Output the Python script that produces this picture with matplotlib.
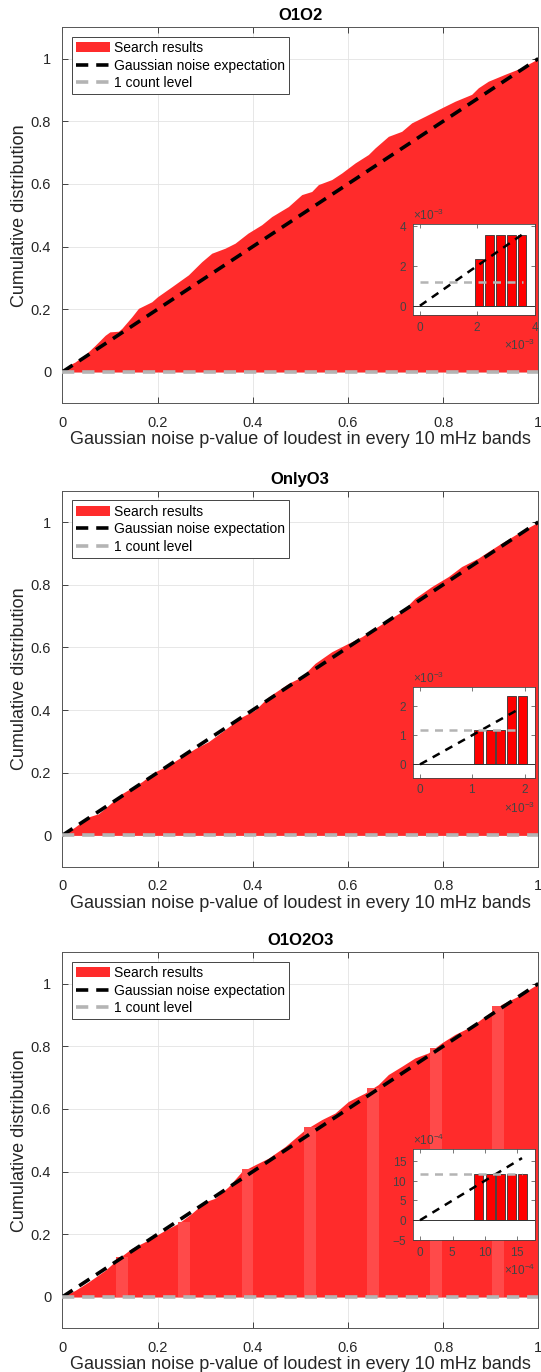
import matplotlib.pyplot as plt
from matplotlib.ticker import ScalarFormatter

plt.rcParams['font.family'] = ['Liberation Sans', 'DejaVu Sans']
plt.rcParams['mathtext.fontset'] = 'custom'
plt.rcParams['mathtext.rm'] = 'Liberation Sans'
plt.rcParams['mathtext.it'] = 'Liberation Sans:italic'

titles = ['O1O2', 'OnlyO3', 'O1O2O3']

# cumulative distribution of loudest p-values
p_o1o2 = [0, 0.013, 0.027, 0.051, 0.069, 0.09, 0.1, 0.118, 0.125, 0.146, 0.16, 0.188, 0.2,
          0.23, 0.265, 0.293, 0.314, 0.342, 0.363, 0.39, 0.419, 0.44, 0.475, 0.503, 0.524,
          0.538, 0.566, 0.587, 0.615, 0.643, 0.657, 0.685, 0.713, 0.734, 0.762, 0.797, 0.825,
          0.86, 0.874, 0.895, 0.93, 0.965, 1.0]
c_o1o2 = [0, 0.021, 0.032, 0.059, 0.085, 0.117, 0.128, 0.13, 0.139, 0.176, 0.203, 0.224, 0.24,
          0.272, 0.31, 0.352, 0.379, 0.395, 0.411, 0.443, 0.47, 0.496, 0.528, 0.566, 0.576,
          0.598, 0.614, 0.635, 0.667, 0.694, 0.715, 0.752, 0.768, 0.795, 0.816, 0.843, 0.864,
          0.886, 0.907, 0.928, 0.95, 0.971, 1.0]

p_o3 = [0, 0.027, 0.055, 0.076, 0.097, 0.125, 0.167, 0.195, 0.223, 0.251, 0.279, 0.307, 0.335,
        0.377, 0.405, 0.433, 0.475, 0.503, 0.531, 0.566, 0.601, 0.629, 0.657, 0.685, 0.713,
        0.741, 0.776, 0.811, 0.839, 0.874, 0.895, 0.923, 0.958, 1.0]
c_o3 = [0, 0.027, 0.059, 0.069, 0.096, 0.133, 0.171, 0.203, 0.224, 0.251, 0.277, 0.299, 0.33,
        0.378, 0.4, 0.442, 0.485, 0.506, 0.549, 0.586, 0.613, 0.634, 0.661, 0.688, 0.714,
        0.757, 0.794, 0.826, 0.858, 0.885, 0.906, 0.933, 0.965, 1.0]

p_all = [0, 0.027, 0.055, 0.09, 0.118, 0.146, 0.18, 0.216, 0.244, 0.272, 0.3, 0.321, 0.349,
         0.377, 0.405, 0.433, 0.468, 0.51, 0.545, 0.573, 0.601, 0.636, 0.664, 0.685, 0.713,
         0.741, 0.769, 0.797, 0.825, 0.86, 0.888, 0.923, 0.958, 1.0]
c_all = [0, 0.021, 0.048, 0.085, 0.123, 0.155, 0.181, 0.213, 0.235, 0.267, 0.304, 0.315, 0.352,
         0.4, 0.422, 0.443, 0.48, 0.534, 0.566, 0.587, 0.624, 0.651, 0.678, 0.71, 0.736,
         0.763, 0.779, 0.811, 0.838, 0.864, 0.896, 0.934, 0.96, 1.0]

# lighter stripes in the O1O2O3 panel
stripe_p = [0.125, 0.256, 0.389, 0.52, 0.652, 0.785, 0.916]
stripe_c = [0.128, 0.24, 0.41, 0.542, 0.667, 0.795, 0.93]

# 1 count level per panel
one_count = [1.176e-3, 1.164e-3, 1.166e-3]

# zoom insets: lowest p-values and their cumulative fraction
ins_p = [[2.05e-3, 2.43e-3, 2.81e-3, 3.18e-3, 3.55e-3],
         [1.127e-3, 1.34e-3, 1.548e-3, 1.75e-3, 1.958e-3],
         [9.06e-4, 10.79e-4, 12.45e-4, 14.07e-4, 15.75e-4]]
ins_c = [[2.35e-3, 3.53e-3, 3.53e-3, 3.53e-3, 3.53e-3],
         [1.164e-3, 1.164e-3, 1.164e-3, 2.33e-3, 2.33e-3],
         [11.66e-4, 11.66e-4, 11.66e-4, 11.66e-4, 11.66e-4]]
ins_xlim = [(-0.25e-3, 4.0e-3), (-0.14e-3, 2.2e-3), (-1.13e-4, 17.7e-4)]
ins_ylim = [(-0.46e-3, 4.08e-3), (-0.455e-3, 2.66e-3), (-5e-4, 18e-4)]
ins_xticks = [[0, 2e-3, 4e-3], [0, 1e-3, 2e-3], [0, 5e-4, 10e-4, 15e-4]]
ins_yticks = [[0, 2e-3, 4e-3], [0, 1e-3, 2e-3], [-5e-4, 0, 5e-4, 10e-4, 15e-4]]
ins_exp = [-3, -3, -4]
ins_end = [3.57e-3, 1.9e-3, 15.7e-4]

W, H = 541, 1372
ax_top = [27.3, 490.7, 952.3]
ins_top = [224, 686.7, 1149]

red = '#ff2b2b'
gray = '#b4b4b4'
txt = '#262626'

fig = plt.figure(figsize=(W / 100, H / 100), dpi=100)

curves = [(p_o1o2, c_o1o2), (p_o3, c_o3), (p_all, c_all)]

for i in range(3):
    ax = fig.add_axes([62.3 / W, 1 - (ax_top[i] + 376) / H, 476 / W, 376 / H])
    px, cy = curves[i]
    ax.fill_between(px, cy, 0, color=red, lw=0, label='Search results', zorder=2)
    if i == 2:
        ax.bar(stripe_p, stripe_c, width=0.025, color='#ff4a4a', lw=0, zorder=2)
    ax.plot([0, 1], [0, 1], color='k', ls='--', lw=2.6, dashes=(3.4, 2.2),
            label='Gaussian noise expectation', zorder=3)
    ax.plot([0, 1], [one_count[i]] * 2, color=gray, ls='--', lw=2.6, dashes=(3.4, 2.2),
            label='1 count level', zorder=3)
    ax.set_xlim(0, 1)
    ax.set_ylim(-0.1, 1.1)
    ax.set_xticks([0, 0.2, 0.4, 0.6, 0.8, 1])
    ax.set_xticklabels(['0', '0.2', '0.4', '0.6', '0.8', '1'])
    ax.set_yticks([0, 0.2, 0.4, 0.6, 0.8, 1])
    ax.set_yticklabels(['0', '0.2', '0.4', '0.6', '0.8', '1'])
    ax.grid(True, color='#e3e3e3', lw=0.6, zorder=0)
    ax.set_axisbelow(True)
    ax.tick_params(direction='in', top=True, right=True, length=4, width=0.6,
                   labelsize=10.5, colors=txt)
    ax.tick_params(axis='x', pad=9)
    ax.tick_params(axis='y', pad=8)
    for s in ax.spines.values():
        s.set_color('#555555')
        s.set_linewidth(0.7)
    ax.set_title(titles[i], fontsize=12, fontweight='bold', pad=5)
    ax.set_xlabel('Gaussian noise p-value of loudest in every 10 mHz bands',
                  fontsize=13, color=txt, labelpad=1)
    ax.set_ylabel('Cumulative distribution', fontsize=13, color=txt, labelpad=2)
    leg = ax.legend(loc='upper left', fontsize=10, frameon=True, fancybox=False,
                    framealpha=1, edgecolor='#444444', borderaxespad=0.7,
                    handlelength=2.4, handletextpad=0.3, labelspacing=0.25,
                    borderpad=0.3)
    leg.get_frame().set_linewidth(0.7)

    # inset
    ih = 91 / H
    ia = fig.add_axes([412.7 / W, 1 - ins_top[i] / H - ih, 122.3 / W, ih])
    ia.set_facecolor('white')
    ia.bar(ins_p[i], ins_c[i], width=(ins_p[i][1] - ins_p[i][0]) * 0.8,
           color='red', edgecolor='#333333', lw=0.6, zorder=2)
    ia.axhline(0, color='#333333', lw=0.7, zorder=3)
    ia.plot([0, ins_end[i]], [0, ins_end[i]], color='k', ls='--', lw=1.8,
            dashes=(3.2, 2.6), zorder=4)
    ia.plot([0, ins_end[i]], [one_count[i]] * 2, color=gray, ls='--', lw=1.8,
            dashes=(3.2, 2.6), zorder=4)
    ia.set_xlim(*ins_xlim[i])
    ia.set_ylim(*ins_ylim[i])
    ia.set_xticks(ins_xticks[i])
    ia.set_yticks(ins_yticks[i])
    for axis in (ia.xaxis, ia.yaxis):
        fmt = ScalarFormatter(useMathText=True)
        fmt.set_powerlimits((ins_exp[i], ins_exp[i]))
        axis.set_major_formatter(fmt)
        axis.get_offset_text().set_fontsize(8.5)
        axis.get_offset_text().set_color('#444444')
    ia.tick_params(direction='in', top=True, right=True, length=3, width=0.5,
                   labelsize=8.5, colors='#444444', pad=4)
    for s in ia.spines.values():
        s.set_color('#444444')
        s.set_linewidth(0.6)

fig.savefig('out.png', dpi=100)
